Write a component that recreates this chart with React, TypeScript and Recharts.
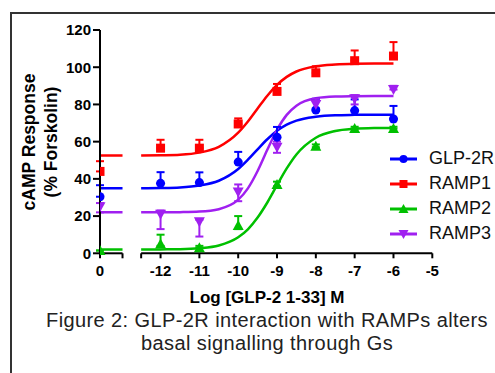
import {
  ComposedChart,
  Line,
  Scatter,
  XAxis,
  YAxis,
  ErrorBar,
  ReferenceLine,
} from 'recharts';

// the basal (no peptide) point sits left of the axis break
const BASAL_X = -13.56;
const BREAK_START = -12.98;
const BREAK_END = -12.5;

const doses = [BASAL_X, -12, -11, -10, -9, -8, -7, -6];
const xTicks = [BASAL_X, BREAK_START, BREAK_END, -12, -11, -10, -9, -8, -7, -6, -5];
const yTicks = [0, 20, 40, 60, 80, 100, 120];

// means and [below, above] error
const glp2rMean = [30.4, 37.6, 38, 49, 62.4, 77, 76.7, 72.2];
const glp2rErr = [[0, 6.2], [0, 6], [0, 5.5], [0, 5.5], [0, 5.5], [0, 6], [0, 6], [0, 7]];
const ramp1Mean = [44, 56.5, 56.5, 69.5, 87, 97, 103.5, 106];
const ramp1Err = [[0, 5.5], [0, 4.5], [0, 4.5], [0, 3], [0, 4], [0, 3.5], [0, 5.5], [0, 7.5]];
const ramp2Mean = [1.5, 5, 3, 15, 37, 57.5, 67, 67];
const ramp2Err = [[0, 0], [1, 5], [0, 1], [2, 5], [1, 1.5], [0.5, 1], [0, 1], [0, 1]];
const ramp3Mean = [25, 21, 17, 33, 57, 80, 83, 88];
const ramp3Err = [[3, 2], [8, 2], [8, 1], [5, 4], [3, 3], [2, 3], [3, 2], [0, 2]];

// fitted curves, sampled off the figure
const fitX = [-12.5, -12, -11.5, -11, -10.5, -10, -9.75, -9.5, -9.25, -9, -8.75, -8.5, -8, -7.5, -7, -6.5, -6];
const glp2rFit = [35.0, 35.1, 35.4, 36.4, 39.0, 45.3, 50.3, 55.9, 61.3, 65.8, 69.1, 71.3, 73.4, 74.2, 74.4, 74.5, 74.5];
const ramp1Fit = [52.5, 52.7, 53.0, 54.1, 57.2, 64.8, 70.8, 77.8, 84.7, 90.5, 94.8, 97.7, 100.5, 101.5, 101.9, 102, 102];
const ramp2Fit = [2.0, 2.1, 2.2, 2.7, 4.2, 8.6, 12.9, 19.2, 27.3, 36.6, 45.6, 53.1, 62.1, 65.7, 66.9, 67.3, 67.4];
const ramp3Fit = [22.0, 22.0, 22.1, 22.4, 23.7, 28.8, 34.9, 44.2, 55.6, 66.4, 74.4, 79.3, 83.3, 84.2, 84.4, 84.5, 84.5];

type Kind = 'circle' | 'square' | 'up' | 'down';

const series = [
  { name: 'GLP-2R', color: '#0000ff', kind: 'circle' as Kind, mean: glp2rMean, err: glp2rErr, fit: glp2rFit },
  { name: 'RAMP1', color: '#ff0000', kind: 'square' as Kind, mean: ramp1Mean, err: ramp1Err, fit: ramp1Fit },
  { name: 'RAMP2', color: '#00c000', kind: 'up' as Kind, mean: ramp2Mean, err: ramp2Err, fit: ramp2Fit },
  { name: 'RAMP3', color: '#a020f0', kind: 'down' as Kind, mean: ramp3Mean, err: ramp3Err, fit: ramp3Fit },
];

const FONT = '"Liberation Sans", Arial, sans-serif';

const curve = (fit: number[]) => [
  { x: BASAL_X, y: fit[0] },
  { x: BREAK_START, y: fit[0] },
  { x: (BREAK_START + BREAK_END) / 2, y: null },
  ...fitX.map((x, i) => ({ x, y: fit[i] })),
];

const points = (mean: number[], err: number[][]) =>
  doses.map((x, i) => ({ x, y: mean[i], err: err[i] }));

function Marker({ kind, cx, cy, color, s = 4.5 }: { kind: Kind; cx: number; cy: number; color: string; s?: number }) {
  if (kind === 'circle') return <circle cx={cx} cy={cy} r={s} fill={color} />;
  if (kind === 'square') return <rect x={cx - s} y={cy - s} width={2 * s} height={2 * s} fill={color} />;
  if (kind === 'up')
    return <polygon points={`${cx},${cy - s - 1} ${cx + s + 1},${cy + s} ${cx - s - 1},${cy + s}`} fill={color} />;
  return <polygon points={`${cx - s - 1},${cy - s} ${cx + s + 1},${cy - s} ${cx},${cy + s + 1}`} fill={color} />;
}

const xLabel = (v: number) => {
  if (v === BASAL_X) return '0';
  if (v === BREAK_START || v === BREAK_END) return '';
  return String(v);
};

export default function App() {
  return (
    <div style={{ position: 'absolute', left: 0, top: 0, width: 495, height: 373, overflow: 'hidden', background: '#fff', fontFamily: FONT }}>
      <div style={{ position: 'absolute', left: 10, top: 12, width: 490, height: 370, borderLeft: '2px solid #333', borderTop: '2px solid #333' }} />

      <ComposedChart
        width={495}
        height={373}
        margin={{ top: 30, right: 62.7, bottom: 89.7, left: 40 }}
        style={{ position: 'absolute', left: 0, top: 0 }}
      >
        <XAxis
          dataKey="x"
          type="number"
          domain={[BASAL_X, -5]}
          ticks={xTicks}
          tickFormatter={xLabel}
          interval={0}
          allowDataOverflow
          axisLine={false}
          tickLine={{ stroke: '#000', strokeWidth: 2 }}
          tickSize={5}
          tickMargin={7}
          height={30}
          tick={{ fill: '#000', fontSize: 15, fontWeight: 'bold', fontFamily: FONT }}
        />
        <YAxis
          type="number"
          domain={[0, 120]}
          ticks={yTicks}
          interval={0}
          width={60}
          axisLine={{ stroke: '#000', strokeWidth: 2 }}
          tickLine={{ stroke: '#000', strokeWidth: 2 }}
          tickSize={7}
          tickMargin={2}
          tick={{ fill: '#000', fontSize: 15, fontWeight: 'bold', fontFamily: FONT }}
        />
        <ReferenceLine segment={[{ x: BASAL_X, y: 0 }, { x: BREAK_START, y: 0 }]} stroke="#000" strokeWidth={2} />
        <ReferenceLine segment={[{ x: BREAK_END, y: 0 }, { x: -5, y: 0 }]} stroke="#000" strokeWidth={2} />

        {series.map((s) => (
          <Line
            key={`fit-${s.name}`}
            data={curve(s.fit)}
            dataKey="y"
            type="monotone"
            stroke={s.color}
            strokeWidth={2.5}
            dot={false}
            activeDot={false}
            connectNulls={false}
            isAnimationActive={false}
          />
        ))}
        {series.map((s) => (
          <Scatter
            key={`pts-${s.name}`}
            data={points(s.mean, s.err)}
            dataKey="y"
            fill={s.color}
            isAnimationActive={false}
            shape={(p: any) => <Marker kind={s.kind} cx={p.cx} cy={p.cy} color={s.color} />}
          >
            <ErrorBar dataKey="err" direction="y" width={4} stroke={s.color} strokeWidth={2} />
          </Scatter>
        ))}
      </ComposedChart>

      {/* y axis title */}
      <div
        style={{
          position: 'absolute', left: 40 - 100, top: 142 - 22, width: 200, height: 44,
          transform: 'rotate(-90deg)', textAlign: 'center', fontWeight: 'bold', fontSize: 17.5, lineHeight: '22px', color: '#000',
        }}
      >
        cAMP Response<br />(% Forskolin)
      </div>

      {/* x axis title */}
      <div style={{ position: 'absolute', left: 167, top: 288, width: 200, textAlign: 'center', fontWeight: 'bold', fontSize: 17, whiteSpace: 'nowrap', color: '#000' }}>
        Log [GLP-2 1-33] M
      </div>

      {/* legend */}
      <div style={{ position: 'absolute', left: 389, top: 146 }}>
        {series.map((s) => (
          <div key={s.name} style={{ display: 'flex', alignItems: 'center', height: 25 }}>
            <svg width={30} height={14}>
              <line x1={1} x2={28} y1={7} y2={7} stroke={s.color} strokeWidth={3} />
              <Marker kind={s.kind} cx={14.5} cy={7} color={s.color} s={4} />
            </svg>
            <span style={{ marginLeft: 10, fontSize: 18, color: '#111', whiteSpace: 'nowrap' }}>{s.name}</span>
          </div>
        ))}
      </div>

      {/* caption */}
      <div style={{ position: 'absolute', left: 17, top: 309, width: 500, textAlign: 'center', fontSize: 20, letterSpacing: 0.4, lineHeight: '23px', color: '#222', whiteSpace: 'nowrap' }}>
        Figure 2: GLP-2R interaction with RAMPs alters<br />basal signalling through Gs
      </div>
    </div>
  );
}
